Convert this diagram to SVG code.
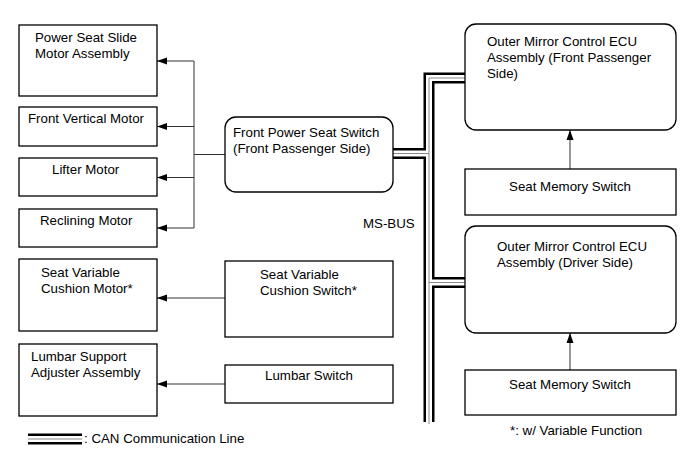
<svg xmlns="http://www.w3.org/2000/svg" width="691" height="467" viewBox="0 0 691 467">
<style>
  .box{fill:#fff;stroke:#000;stroke-width:1.3}
  .t{font-family:"Liberation Sans",Arial,sans-serif;font-size:13.3px;fill:#000}
  .c{text-anchor:middle}
  .ln{fill:none;stroke:#333;stroke-width:1}
  .bk{fill:none;stroke:#000;stroke-width:11}
  .wh{fill:none;stroke:#fff;stroke-width:6}
  .gy{fill:none;stroke:#888;stroke-width:1}
</style>
<defs>
  <marker id="ah" markerWidth="10" markerHeight="8" refX="10" refY="4" orient="auto" markerUnits="userSpaceOnUse">
    <path d="M0,0.5 L10,4 L0,7.5 Z" fill="#000"/>
  </marker>
</defs>
<rect width="691" height="467" fill="#fff"/>

<g id="connectors">
  <path class="ln" d="M225,154.5 H194 M194,61 V228"/>
  <path class="ln" d="M194,61 H157" marker-end="url(#ah)"/>
  <path class="ln" d="M194,126.5 H157" marker-end="url(#ah)"/>
  <path class="ln" d="M194,177.5 H157" marker-end="url(#ah)"/>
  <path class="ln" d="M194,228 H157" marker-end="url(#ah)"/>
  <path class="ln" d="M225,298 H157" marker-end="url(#ah)"/>
  <path class="ln" d="M225,384 H157" marker-end="url(#ah)"/>
  <path class="ln" d="M570,169 V130" marker-end="url(#ah)"/>
  <path class="ln" d="M570,370 V333" marker-end="url(#ah)"/>
  <g id="bus">
    <path class="bk" d="M465,78 H429 V422 M393,153.5 H429 M429,282.5 H465"/>
    <path class="wh" d="M465,78 H429 V424 M393,153.5 H429 M429,282.5 H465"/>
    <path class="gy" d="M465,78 H429 V424 M393,153.5 H429 M429,282.5 H465"/>
  </g>
</g>

<g id="power-seat-slide">
  <rect class="box" x="19" y="25" width="138" height="71"/>
  <text class="t" x="35" y="42">Power Seat Slide</text>
  <text class="t" x="35" y="58">Motor Assembly</text>
</g>
<g id="front-vertical">
  <rect class="box" x="19" y="107" width="138" height="39"/>
  <text class="t" x="28" y="123">Front Vertical Motor</text>
</g>
<g id="lifter">
  <rect class="box" x="19" y="158" width="138" height="38"/>
  <text class="t" x="52" y="174">Lifter Motor</text>
</g>
<g id="reclining">
  <rect class="box" x="19" y="209" width="138" height="38"/>
  <text class="t" x="40" y="225">Reclining Motor</text>
</g>
<g id="cushion-motor">
  <rect class="box" x="19" y="259" width="138" height="72"/>
  <text class="t" x="41" y="277">Seat Variable</text>
  <text class="t" x="41" y="293">Cushion Motor*</text>
</g>
<g id="lumbar-adjuster">
  <rect class="box" x="19" y="344" width="138" height="72"/>
  <text class="t" x="31" y="361">Lumbar Support</text>
  <text class="t" x="31" y="377">Adjuster Assembly</text>
</g>
<g id="front-power-seat-switch">
  <rect class="box" x="225" y="117" width="168" height="75" rx="11"/>
  <text class="t" x="233" y="137">Front Power Seat Switch</text>
  <text class="t" x="233" y="153">(Front Passenger Side)</text>
</g>
<g id="cushion-switch">
  <rect class="box" x="225" y="261" width="168" height="76"/>
  <text class="t" x="260" y="279">Seat Variable</text>
  <text class="t" x="260" y="295">Cushion Switch*</text>
</g>
<g id="lumbar-switch">
  <rect class="box" x="225" y="365" width="168" height="38"/>
  <text class="t c" x="309" y="380">Lumbar Switch</text>
</g>
<g id="ecu-passenger">
  <rect class="box" x="465" y="24" width="211" height="106" rx="11"/>
  <text class="t" x="487" y="46">Outer Mirror Control ECU</text>
  <text class="t" x="487" y="62">Assembly (Front Passenger</text>
  <text class="t" x="487" y="78">Side)</text>
</g>
<g id="memory-passenger">
  <rect class="box" x="465" y="169" width="211" height="46"/>
  <text class="t c" x="570" y="191">Seat Memory Switch</text>
</g>
<g id="ecu-driver">
  <rect class="box" x="465" y="226" width="211" height="107" rx="11"/>
  <text class="t" x="497" y="251">Outer Mirror Control ECU</text>
  <text class="t" x="497" y="267">Assembly (Driver Side)</text>
</g>
<g id="memory-driver">
  <rect class="box" x="465" y="370" width="211" height="45"/>
  <text class="t c" x="570" y="389">Seat Memory Switch</text>
</g>

<text class="t" x="363" y="228">MS-BUS</text>
<text class="t" x="510" y="435">*: w/ Variable Function</text>

<g id="legend">
  <path class="bk" d="M28,439 H82"/>
  <path class="wh" d="M28,439 H82"/>
  <path class="gy" d="M28,439 H82"/>
  <text class="t" x="84" y="443">: CAN Communication Line</text>
</g>
</svg>
